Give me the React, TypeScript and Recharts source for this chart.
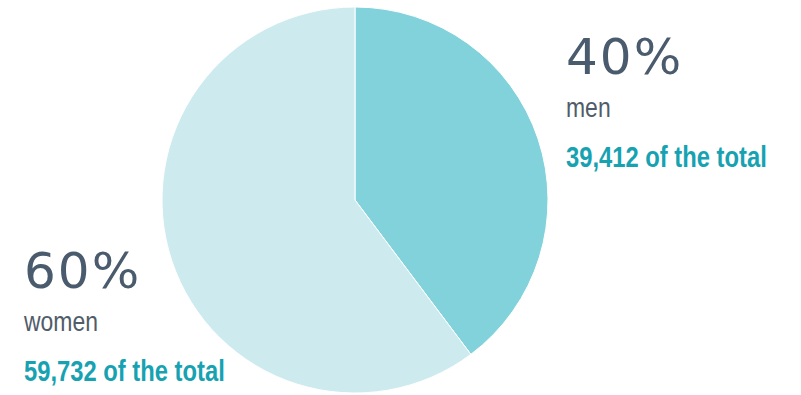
import React from "react";
import { PieChart, Pie, Cell } from "recharts";

const groups = ["men", "women"];
const counts = [39412, 59732];
const sliceColors = ["#82d2db", "#cdebef"];

const total = counts.reduce((a, b) => a + b, 0);
const chartData = groups.map((name, i) => ({ name, value: counts[i] }));

// where each group's text block sits (left x, baseline of the big percent)
const labelPos = [
  { x: 566, y: 74 },
  { x: 24, y: 288 },
];

// no narrow font installed, so squeeze Liberation Sans horizontally
const NARROW = 0.82;

export default function App() {
  return (
    <div style={{ position: "absolute", left: 0, top: 0, width: 801, height: 395 }}>
      <PieChart width={801} height={395} margin={{ top: 0, right: 0, bottom: 0, left: 0 }}>
        <Pie
          data={chartData}
          dataKey="value"
          nameKey="name"
          cx={355}
          cy={200}
          outerRadius={193}
          startAngle={90}
          endAngle={-270}
          stroke="#ffffff"
          strokeWidth={1}
          isAnimationActive={false}
        >
          {chartData.map((d, i) => (
            <Cell key={d.name} fill={sliceColors[i]} />
          ))}
        </Pie>
      </PieChart>
      <svg
        width={801}
        height={395}
        style={{ position: "absolute", left: 0, top: 0, pointerEvents: "none" }}
      >
        {chartData.map((d, i) => {
          const p = labelPos[i];
          const pct = Math.round((d.value / total) * 100);
          return (
            <g key={d.name}>
              <text
                x={p.x}
                y={p.y}
                fontFamily="DejaVu Sans"
                fontSize={50}
                letterSpacing={2}
                fill="#4a5b6d"
              >
                {pct}%
              </text>
              <text
                transform={`translate(${p.x},${p.y + 43}) scale(${NARROW},1)`}
                fontFamily="'Liberation Sans', Arial, sans-serif"
                fontSize={28}
                fill="#505c69"
              >
                {d.name}
              </text>
              <text
                transform={`translate(${p.x},${p.y + 93}) scale(${NARROW},1)`}
                fontFamily="'Liberation Sans', Arial, sans-serif"
                fontWeight="bold"
                fontSize={29}
                fill="#17a2b2"
              >
                {d.value.toLocaleString("en-US")} of the total
              </text>
            </g>
          );
        })}
      </svg>
    </div>
  );
}
